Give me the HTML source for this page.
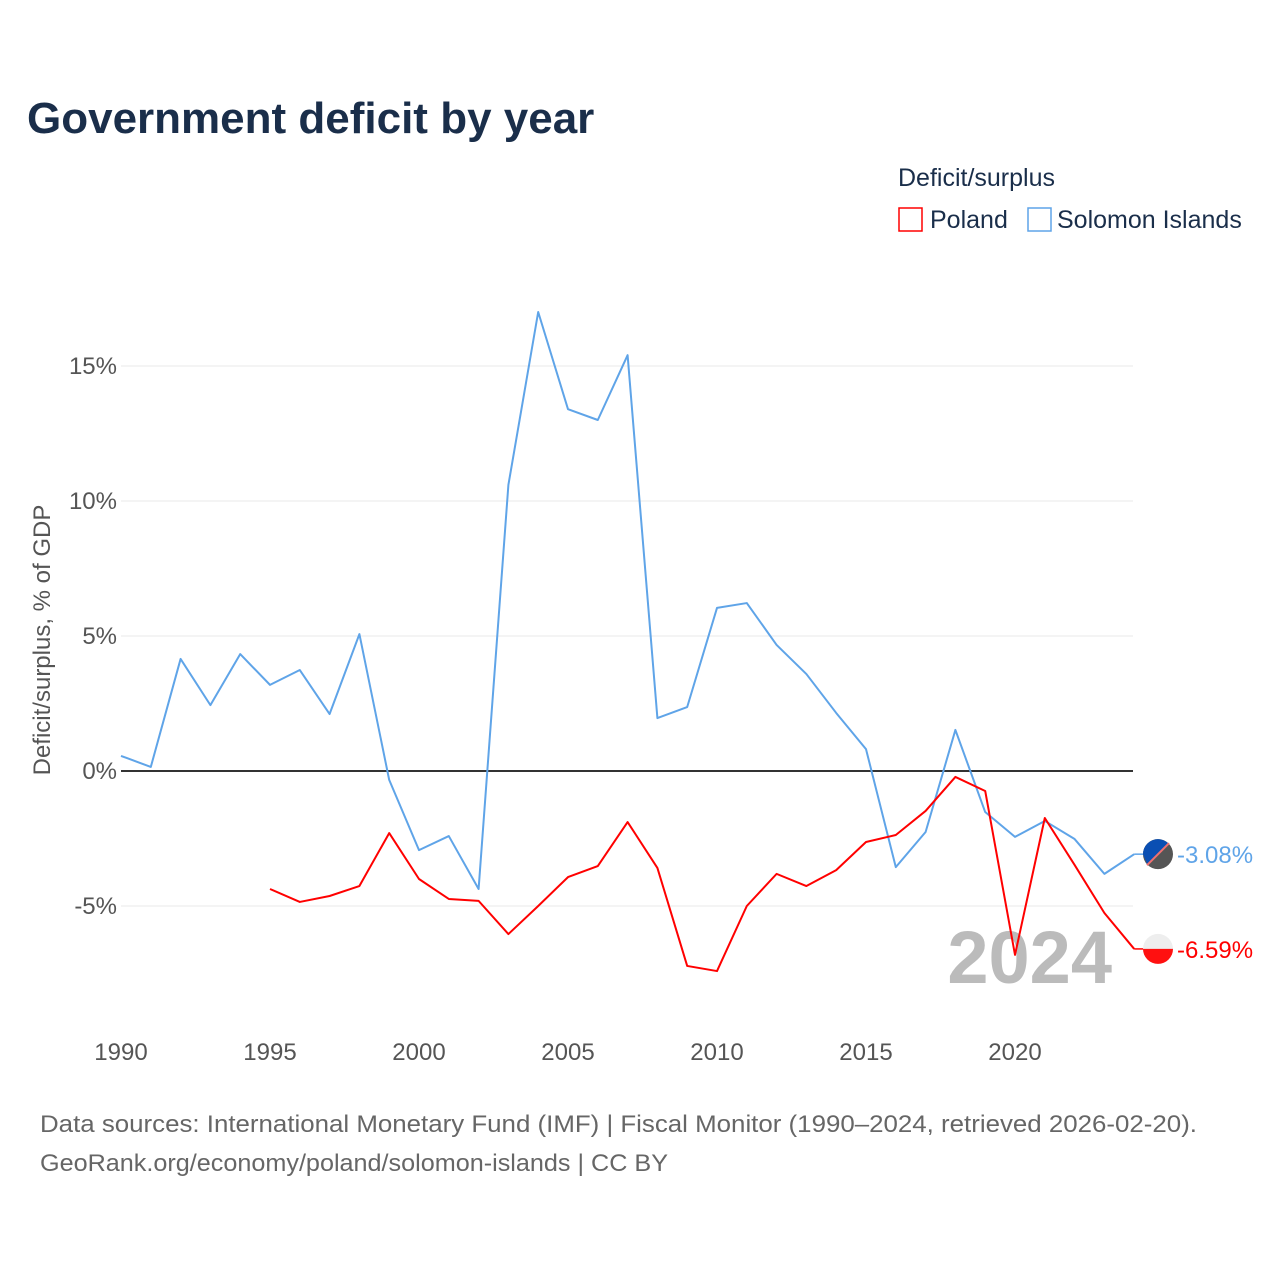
<!DOCTYPE html>
<html><head><meta charset="utf-8"><style>
body{margin:0;background:#fff;font-family:"Liberation Sans",sans-serif}
svg text{font-family:"Liberation Sans",sans-serif}
</style></head><body>
<svg id="c" width="1280" height="1280" xmlns="http://www.w3.org/2000/svg">
<text x="27" y="133" font-size="44" font-weight="bold" fill="#1a2e4a">Government deficit by year</text>
<text x="898" y="186" font-size="25" fill="#1a2e4a">Deficit/surplus</text>
<g><rect x="899" y="208" width="23" height="23" fill="none" stroke="#ff0000" stroke-width="1.5"/><text x="930" y="228" font-size="25" fill="#1a2e4a">Poland</text></g>
<g><rect x="1028" y="208" width="23" height="23" fill="none" stroke="#5fa4e8" stroke-width="1.5"/><text x="1057" y="228" font-size="25" fill="#1a2e4a">Solomon Islands</text></g>
<text transform="translate(50,640) rotate(-90)" text-anchor="middle" font-size="24" fill="#555">Deficit/surplus, % of GDP</text>
<g id="grid"></g><g id="xt"></g>
<text x="1112" y="983" text-anchor="end" font-size="74" font-weight="bold" fill="#bbb">2024</text>
<g id="lines"></g>
<text x="40" y="1132" font-size="24" fill="#666" textLength="1157" lengthAdjust="spacingAndGlyphs">Data sources: International Monetary Fund (IMF) | Fiscal Monitor (1990–2024, retrieved 2026-02-20).</text>
<text x="40" y="1171" font-size="24" fill="#666" textLength="628" lengthAdjust="spacingAndGlyphs">GeoRank.org/economy/poland/solomon-islands | CC BY</text>
</svg>
<script>
const years=[];for(let y=1990;y<=2024;y++)years.push(y);
const solomon=[0.56,0.15,4.15,2.44,4.33,3.19,3.74,2.11,5.07,-0.33,-2.93,-2.41,-4.37,10.6,17.0,13.4,13.0,15.4,1.96,2.37,6.04,6.22,4.67,3.59,2.15,0.81,-3.56,-2.26,1.52,-1.52,-2.44,-1.85,-2.52,-3.81,-3.08];
const poland=[null,null,null,null,null,-4.37,-4.85,-4.63,-4.26,-2.30,-4.0,-4.74,-4.81,-6.04,-5.0,-3.93,-3.52,-1.89,-3.59,-7.22,-7.41,-5.0,-3.81,-4.26,-3.67,-2.63,-2.37,-1.48,-0.22,-0.74,-6.81,-1.74,-3.48,-5.26,-6.59];
const yTicks=[-5,0,5,10,15];
const xTicks=[1990,1995,2000,2005,2010,2015,2020];
const X=y=>121+(y-1990)*29.8, Y=v=>771-v*27;
const NS="http://www.w3.org/2000/svg";
function mk(t,a,p){const e=document.createElementNS(NS,t);for(const k in a)e.setAttribute(k,a[k]);p.appendChild(e);return e;}
const g=document.getElementById('grid');
yTicks.forEach(v=>{const l=mk('line',{x1:121,x2:1133,y1:Y(v),y2:Y(v),stroke:v===0?'#333':'#e8e8e8','stroke-width':v===0?2:1},g);


const t=mk('text',{x:117,y:Y(v)+8,'text-anchor':'end','font-size':24,fill:'#555'},g);t.textContent=v+'%';

});
const xt=document.getElementById('xt');
xTicks.forEach(v=>{const t=mk('text',{x:X(v),y:1060,'text-anchor':'middle','font-size':24,fill:'#555'},xt);t.textContent=v;

});
const L=document.getElementById('lines');
function series(vals,col,name){let d='';vals.forEach((v,i)=>{if(v===null)return;d+=(d?'L':'M')+X(years[i])+','+Y(v);});
const p=mk('path',{d:d,fill:'none',stroke:col,'stroke-width':2,'stroke-linejoin':'round'},L);


const last=vals[vals.length-1],cy=Y(last);
mk('line',{x1:X(2024),x2:1145,y1:cy,y2:cy,stroke:col,'stroke-width':1.5},L);
return cy;}
const cs=series(solomon,'#5fa4e8','solomon-islands');
const cp=series(poland,'#ff0000','poland');
let f=mk('g',{},L);
mk('circle',{cx:1158,cy:cs,r:15,fill:'#555'},f);
mk('path',{d:`M${1158-15},${cs} A15,15 0 0 1 ${1158+10.6},${cs-10.6} L${1158-10.6},${cs+10.6} Z`,fill:'#0a4fb3'},f);
mk('line',{x1:1147,y1:cs+11,x2:1169,y2:cs-11,stroke:'#f07070','stroke-width':2},f);
f=mk('g',{},L);
mk('circle',{cx:1158,cy:cp,r:15,fill:'#eee'},f);
mk('path',{d:`M1143,${cp} A15,15 0 0 0 1173,${cp} Z`,fill:'#ff1010'},f);
let t=mk('text',{x:1177,y:cs+9,'font-size':24,fill:'#5fa4e8'},L);t.textContent=solomon[solomon.length-1].toFixed(2)+'%';


t=mk('text',{x:1177,y:cp+9,'font-size':24,fill:'#ff0000'},L);t.textContent=poland[poland.length-1].toFixed(2)+'%';


</script>
</body></html>
